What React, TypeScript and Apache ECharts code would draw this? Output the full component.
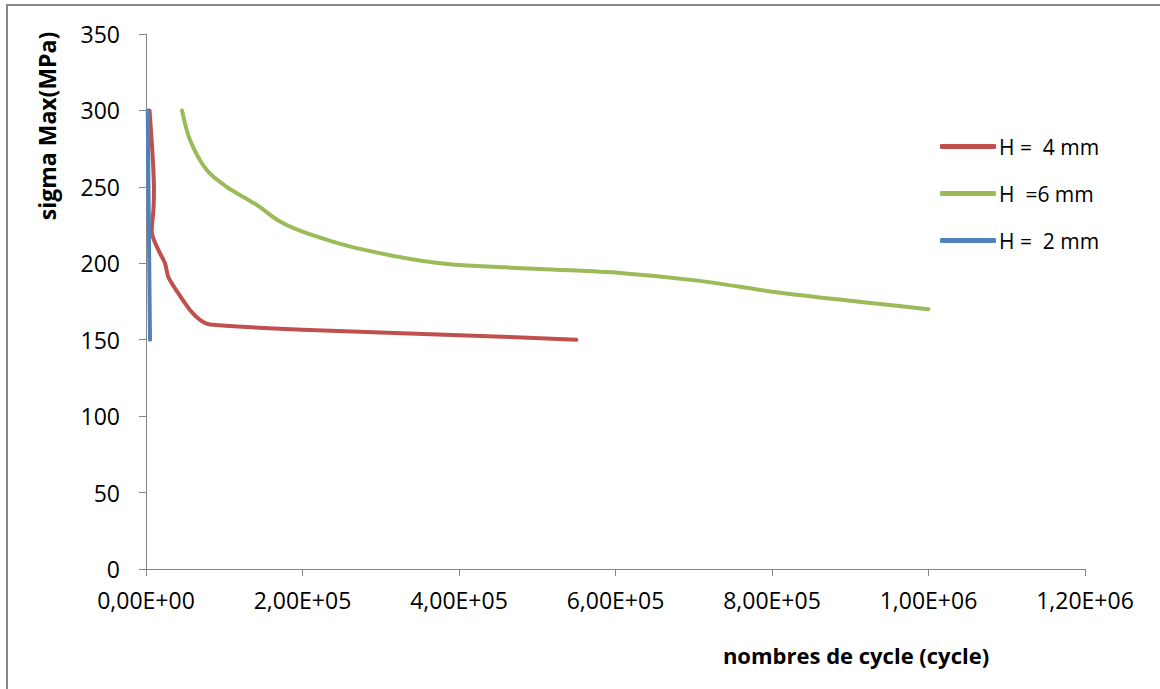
import React, { useEffect, useRef } from "react";
import * as echarts from "echarts";

const xTickLabels = ["0,00E+00", "2,00E+05", "4,00E+05", "6,00E+05", "8,00E+05", "1,00E+06", "1,20E+06"];

const h4Name = "H =  4 mm";
const h4X = [4500, 8500, 10200, 9500, 7300, 15700, 24300, 28500, 41300, 56200, 69000, 81800, 200000, 400000, 550000];
const h4Y = [300, 270, 248, 235, 221, 208.8, 200, 191, 180.4, 169.5, 163, 160, 156.5, 153, 150];

const h6Name = "H  =6 mm";
const h6X = [46000, 56200, 77600, 103100, 141500, 171200, 205300, 269200, 375700, 503500, 605800, 708000, 810200, 1000000];
const h6Y = [300, 280.7, 261, 250, 238.2, 227.3, 219.7, 209.9, 200, 196.3, 193.7, 188.5, 180.7, 170];

const h2Name = "H =  2 mm";
const h2X = [2200, 5100];
const h2Y = [300, 150];

const zip = (xs: number[], ys: number[]) => xs.map((x, i) => [x, ys[i]]);

const FONT = "'Open Sans', 'Liberation Sans', sans-serif";

export default function App() {
  const ref = useRef<HTMLDivElement>(null);
  useEffect(() => {
    if (!ref.current) return;
    const chart = echarts.init(ref.current, null, { renderer: "svg" });
    const lineSeries = (name: string, data: number[][], color: string) => ({
      name,
      type: "line",
      data,
      smooth: 0.3,
      showSymbol: false,
      symbol: "none",
      lineStyle: { color, width: 4, cap: "round", join: "round" },
      itemStyle: { color },
    });
    chart.setOption({
      animation: false,
      backgroundColor: "#ffffff",
      grid: { left: 146, right: 75, top: 34, bottom: 120, containLabel: false },
      xAxis: {
        type: "value",
        min: 0,
        max: 1200000,
        interval: 200000,
        axisLine: { show: true, lineStyle: { color: "#868686", width: 1 } },
        axisTick: { show: true, inside: false, length: 7, lineStyle: { color: "#868686" } },
        splitLine: { show: false },
        axisLabel: {
          margin: 19,
          fontSize: 23,
          fontFamily: FONT,
          color: "#000",
          formatter: (v: number) => xTickLabels[Math.round(v / 200000)] ?? "",
        },
      },
      yAxis: {
        type: "value",
        min: 0,
        max: 350,
        interval: 50,
        axisLine: { show: true, lineStyle: { color: "#868686", width: 1 } },
        axisTick: { show: true, inside: false, length: 7, lineStyle: { color: "#868686" } },
        splitLine: { show: false },
        axisLabel: { margin: 26, fontSize: 23, fontFamily: FONT, color: "#000" },
      },
      legend: {
        orient: "vertical",
        left: 935,
        top: 131,
        itemWidth: 56,
        itemHeight: 5,
        itemGap: 26,
        icon: "roundRect",
        textStyle: { fontSize: 21, fontFamily: FONT, color: "#000", padding: [0, 0, 0, -2] },
        data: [h4Name, h6Name, h2Name],
      },
      graphic: [
        {
          type: "rect",
          shape: { x: 7, y: 5, width: 1200, height: 720 },
          style: { fill: "none", stroke: "#888888", lineWidth: 2 },
          silent: true,
          z: -10,
        },
        {
          type: "text",
          x: 47,
          y: 126,
          rotation: Math.PI / 2,
          style: {
            text: "sigma Max(MPa)",
            fontSize: 23,
            fontWeight: "bold",
            fontFamily: FONT,
            fill: "#000",
            align: "center",
            verticalAlign: "middle",
          },
        },
        {
          type: "text",
          x: 856,
          y: 655,
          style: {
            text: "nombres de cycle (cycle)",
            fontSize: 22,
            fontWeight: "bold",
            fontFamily: FONT,
            fill: "#000",
            align: "center",
            verticalAlign: "middle",
          },
        },
      ],
      series: [
        lineSeries(h4Name, zip(h4X, h4Y), "#C0504D"),
        lineSeries(h6Name, zip(h6X, h6Y), "#9BBB59"),
        lineSeries(h2Name, zip(h2X, h2Y), "#4F81BD"),
      ],
    });
    return () => chart.dispose();
  }, []);
  return <div ref={ref} style={{ position: "absolute", left: 0, top: 0, width: 1160, height: 689 }} />;
}
